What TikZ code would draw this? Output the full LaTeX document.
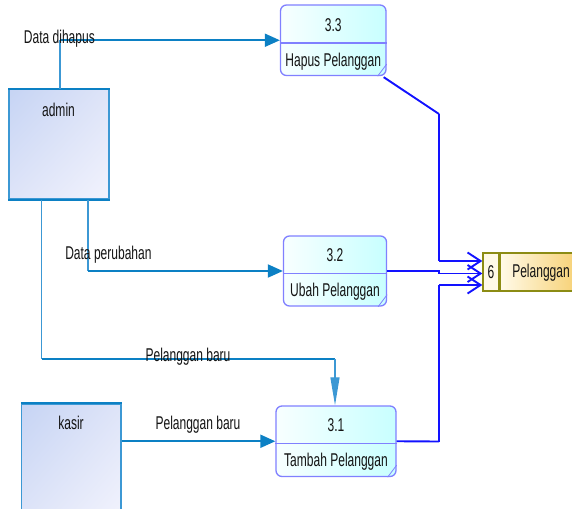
\documentclass[tikz,border=0pt]{standalone}
\usepackage{fontspec}
\newfontfamily\narrowfont{Liberation Sans}[FakeStretch=0.65]
\usetikzlibrary{arrows.meta,calc,shadings}
\definecolor{flowblue}{RGB}{12,128,196}
\definecolor{flowlight}{RGB}{60,152,212}
\definecolor{storeblue}{RGB}{18,18,255}
\definecolor{procborder}{RGB}{128,128,255}
\definecolor{procA}{RGB}{248,255,255}
\definecolor{procB}{RGB}{200,255,255}
\definecolor{entA}{RGB}{198,212,244}
\definecolor{entB}{RGB}{242,243,253}
\definecolor{entM}{RGB}{222,228,248}
\definecolor{storeborder}{RGB}{140,140,20}
\definecolor{storeA}{RGB}{255,250,232}
\definecolor{storeB}{RGB}{244,196,80}
\definecolor{txtcol}{RGB}{20,20,20}
\tikzset{
  entity/.style={draw=flowlight,line width=1.2pt,upper left=entA,lower right=entB,upper right=entM,lower left=entM,inner sep=0pt},
  entedge/.style={draw=flowblue,line width=1.9pt},
  procbox/.style={draw=procborder,line width=1.3pt,rounded corners=6pt,left color=procA,right color=procB,inner sep=0pt},
  procline/.style={draw=procborder,line width=1.3pt},
  txt/.style={font=\narrowfont\fontsize{18.5}{20}\selectfont,text=txtcol,inner sep=0pt},
  flowv/.style={draw=flowlight,line width=1.2pt},
  flowh/.style={draw=flowblue,line width=1.9pt},
  tri/.style={-{Triangle[length=15pt,width=13pt]}},
  longtri/.style={-{Triangle[length=28pt,width=9pt]}},
  sflowv/.style={draw=storeblue,line width=1.2pt},
  sflowh/.style={draw=storeblue,line width=1.9pt},
  barb/.style={-{Straight Barb[length=13pt,width=17pt]}},
}
\begin{document}
\begin{tikzpicture}[x=1pt,y=-1pt]
\useasboundingbox (0,0) rectangle (572,508);
\begin{scope}
\clip (0,0) rectangle (572,508);
% entities
\node[entity,minimum width=100pt,minimum height=109.5pt] (admin) at (59,144.25) {};
\draw[entedge] (admin.north west) -- (admin.north east);
\draw[entedge] (admin.south west) -- (admin.south east);
\node[entity,minimum width=99.5pt,minimum height=116pt] (kasir) at (71.25,462) {};
\draw[entedge] (kasir.north west) -- (kasir.north east);
% processes
\node[procbox,minimum width=105.5pt,minimum height=70.5pt] (p33) at (333.25,40.25) {};
\node[procbox,minimum width=103pt,minimum height=70pt] (p32) at (335,271) {};
\node[procbox,minimum width=120pt,minimum height=70.5pt] (p31) at (336,441.25) {};
\draw[procline] (p33.west |- 0,43) -- (p33.east |- 0,43);
\draw[procline] (p32.west |- 0,273.5) -- (p32.east |- 0,273.5);
\draw[procline] (p31.west |- 0,443.5) -- (p31.east |- 0,443.5);
\draw[procborder,line width=0.8pt] ([xshift=-9pt]p33.south east) -- ([yshift=12pt]p33.south east);
\draw[procborder,line width=0.8pt] ([xshift=-9pt]p32.south east) -- ([yshift=12pt]p32.south east);
\draw[procborder,line width=0.8pt] ([xshift=-9pt]p31.south east) -- ([yshift=12pt]p31.south east);
% data store
\node[draw=storeborder,line width=1.4pt,fill=storeA,minimum width=16pt,minimum height=38pt,inner sep=0pt] (storeid) at (491,272) {};
\node[draw=storeborder,line width=1.4pt,left color=storeA,right color=storeB,minimum width=101pt,minimum height=38pt,inner sep=0pt,anchor=west] (storename) at (storeid.east) {};
\end{scope}
% texts
\node[txt] (tadmin) at (58.5,109.5) {admin};
\node[txt] (tkasir) at (71,422.5) {kasir};
\node[txt] (t33a) at (333.25,25) {3.3};
\node[txt] (t33b) at (333.25,62) {Hapus Pelanggan};
\node[txt] (t32a) at (335,255) {3.2};
\node[txt] (t32b) at (335,291.5) {Ubah Pelanggan};
\node[txt] (t31a) at (336,425) {3.1};
\node[txt] (t31b) at (336,461.5) {Tambah Pelanggan};
\node[txt] (tsid) at (491,272.5) {6};
\node[txt] (tsname) at (541,272.5) {Pelanggan};
% flows from entities
\draw[flowv] ([xshift=1pt]admin.north) -- ([xshift=1pt]admin.north |- p33.west);
\draw[flowh,tri] ([xshift=1pt]admin.north |- p33.west) -- (p33.west);
\node[txt] (l1) at (59.4,39) {Data dihapus};
\draw[flowv] ([xshift=29pt]admin.south) -- ([xshift=29pt]admin.south |- p32.west);
\draw[flowh,tri] ([xshift=29pt]admin.south |- p32.west) -- (p32.west);
\node[txt] (l2) at (108.4,255) {Data perubahan};
\coordinate (c3) at (335,359);
\coordinate (c3a) at (41.5,359);
\draw[flowv] ([xshift=-17.5pt]admin.south) -- (c3a);
\draw[flowh] (c3a) -- (c3);
\draw[flowv,longtri] (c3) -- (c3 |- p31.north);
\node[txt] (l3) at (188,357) {Pelanggan baru};
\draw[flowh,tri] (kasir.east |- p31.west) -- (p31.west);
\node[txt] (l4) at (198,425) {Pelanggan baru};
% flows to data store
\coordinate (j1) at (439,114);
\coordinate (j1b) at (439,261);
\draw[sflowh] ([xshift=-3pt,yshift=-1pt]p33.south east) -- (j1);
\draw[sflowv] (j1) -- (j1b);
\draw[sflowh,barb] (j1b) -- ([yshift=11pt]storeid.west);
\coordinate (j2) at (439,271);
\draw[sflowh] (p32.east) -- (j2) -- (439,273.5);
\draw[sflowh,barb] (439,273.5) -- ([yshift=-1.5pt]storeid.west);
\coordinate (j3) at (439,285);
\coordinate (j3a) at (439,441.5);
\draw[sflowh] (p31.east) -- (j3a);
\draw[sflowv] (j3a) -- (j3);
\draw[sflowh,barb] (j3) -- ([yshift=-13pt]storeid.west);
\end{tikzpicture}
\end{document}
